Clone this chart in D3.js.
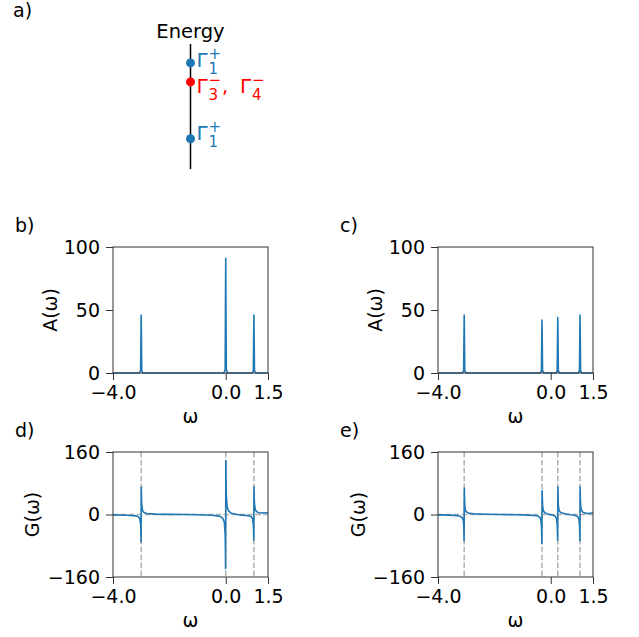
<!DOCTYPE html>
<html>
<head>
<meta charset="utf-8">
<script src="https://cdn.jsdelivr.net/npm/d3@7"></script>
<style>
body { margin: 0; background: #fff; }
text { font-family: "DejaVu Sans", sans-serif; fill: #000; }
</style>
</head>
<body>
<script>
// ticks shared by the four small panels
var omegaTicks = [-4.0, 0.0, 1.5];
var aTicks = [0, 50, 100];
var gTicks = [-160, 0, 160];

// panel a: energy levels (same units as omega) and their irreps [sub, sup]
var levelEnergy = [1, 0, -3];
var levelIrreps = [[["1", "+"]], [["3", "\u2212"], ["4", "\u2212"]], [["1", "+"]]];

// panel b: A(w), poles at -3, 0, 1
var omegaB = [-4.0, -3.06, -3.02, -3.0, -2.98, -2.94, -0.06, -0.02, 0.0, 0.02, 0.06, 0.94, 0.98, 1.0, 1.02, 1.06, 1.5];
var specB  = [0, 0, 2, 46, 2, 0, 0, 3, 91, 3, 0, 0, 2, 46, 2, 0, 0];

// panel c: A(w), four poles
var omegaC = [-4.0, -3.13, -3.09, -3.07, -3.05, -3.01, -0.37, -0.33, -0.31, -0.29, -0.25, 0.19, 0.23, 0.25, 0.27, 0.31, 0.98, 1.02, 1.04, 1.06, 1.1, 1.5];
var specC  = [0, 0, 2, 46, 2, 0, 0, 2, 42, 2, 0, 0, 2, 44, 2, 0, 0, 2, 46, 2, 0, 0];

// panel d: G(w), poles as in b
var polesD = [-3.0, 0.0, 1.0];
var omegaD = [-4.0, -3.5, -3.2, -3.1, -3.05, -3.02, -3.01, -3.005, -2.995, -2.99, -2.98, -2.95, -2.9, -2.8, -2.5, -2.0, -1.5, -1.0, -0.5, -0.3, -0.2, -0.1, -0.05, -0.02, -0.01, -0.005,
              0.005, 0.01, 0.02, 0.05, 0.1, 0.2, 0.4, 0.6, 0.8, 0.9, 0.95, 0.98, 0.99, 0.995, 1.005, 1.01, 1.02, 1.05, 1.1, 1.2, 1.5];
var gD     = [-1, -2, -3.5, -6, -11, -25, -45, -70, 70, 45, 25, 10, 5, 2.5, 1, 0.3, 0, -0.5, -2, -3.5, -5, -10, -20, -50, -95, -138,
              138, 95, 50, 20, 9, 3, 0, -1.5, -3, -5, -10, -25, -45, -66, 71, 47, 27, 12, 7, 4, 4.5];

// panel e: G(w), poles as in c
var polesE = [-3.07, -0.31, 0.25, 1.04];
var omegaE = [-4.0, -3.6, -3.3, -3.2, -3.13, -3.1, -3.09, -3.08, -3.075, -3.065, -3.06, -3.05, -3.03, -3.0, -2.9, -2.7, -2.3, -1.8, -1.2, -0.8, -0.6, -0.45, -0.38, -0.35, -0.33, -0.32, -0.315,
              -0.305, -0.3, -0.29, -0.27, -0.22, -0.1, 0.0, 0.1, 0.17, 0.21, 0.23, 0.24, 0.245, 0.255, 0.26, 0.27, 0.29, 0.35, 0.5, 0.7, 0.85, 0.95, 1.0, 1.02, 1.03, 1.035,
              1.045, 1.05, 1.06, 1.08, 1.15, 1.3, 1.5];
var gE     = [-1, -1.5, -3, -5, -9, -16, -25, -45, -67, 68, 45, 25, 12, 7, 3, 1.5, 0.5, 0, -0.5, -1.5, -2.5, -4, -8, -14, -28, -48, -74,
              61, 45, 25, 12, 5, 1, -0.5, -2, -5, -12, -25, -48, -66, 70, 48, 25, 12, 5, 2, -0.5, -2, -5, -12, -25, -45, -67,
              70, 47, 25, 12, 5, 2.5, 4];

var blue = "#1f77b4";
var fs = 19;

var svg = d3.select("body")
            .append("svg")
            .attr("width", 639)
            .attr("height", 637)

svg.append("rect").attr("width", 639).attr("height", 637).attr("fill", "#fff")

// ---- panel a ----
svg.append("text").attr("x", 13).attr("y", 17).style("font-size", fs + "px").text("a)")

var ey = d3.scaleLinear().domain([-4.6, 2.0]).range([169, 44])
var lineX = 190.5
// label baseline offset from each dot (the labels are not centred the same way)
var labelDy = [4.5, 11, 1.7]

svg.append("text").attr("x", lineX).attr("y", 38).attr("text-anchor", "middle")
   .style("font-size", "19.5px").text("Energy")

svg.append("line").attr("x1", lineX).attr("x2", lineX).attr("y1", ey(-4.6)).attr("y2", ey(2.0))
   .attr("stroke", "#000").attr("stroke-width", 1.5)

var levels = svg.selectAll("g.level")
                .data(levelEnergy)
                .enter()
                .append("g")
                .attr("class", "level")
                .attr("transform", function(d) { return "translate(" + lineX + "," + ey(d) + ")" })

levels.append("circle")
      .attr("r", 4.5)
      .attr("fill", function(d, i) { return i == 1 ? "red" : blue })

levels.each(function(d, i) {
  var g = d3.select(this)
  var col = i == 1 ? "red" : blue
  var by = labelDy[i]
  var x0 = 6
  levelIrreps[i].forEach(function(ir, j) {
    if (j > 0) {
      g.append("text").attr("x", x0 - 0.5).attr("y", by).style("fill", col)
       .style("font-size", "19px").text(",")
      x0 += 17.5
    }
    g.append("text").attr("x", x0).attr("y", by).style("fill", col)
     .style("font-size", "20px").text("\u0393")
    g.append("text").attr("x", x0 + 12).attr("y", by - 8).style("fill", col)
     .style("font-size", "15px").text(ir[1])
    g.append("text").attr("x", x0 + 12).attr("y", by + 6.8).style("fill", col)
     .style("font-size", "15px").text(ir[0])
    x0 += 26
  })
})

// ---- small panels ----
function drawPanel(box, tag, omega, vals, yTicks, ylab, ylabOff, poles) {
  var x = d3.scaleLinear().domain([-4, 1.5]).range([box.l, box.r])
  var y = d3.scaleLinear().domain([yTicks[0], yTicks[2]]).range([box.b, box.t])
  var g = svg.append("g")

  g.append("text").attr("x", box.l - 98).attr("y", box.t - 15).style("font-size", fs + "px").text(tag)

  if (poles) {
    g.selectAll("line.pole").data(poles).enter().append("line")
     .attr("x1", function(d) { return x(d) }).attr("x2", function(d) { return x(d) })
     .attr("y1", box.t).attr("y2", box.b)
     .attr("stroke", "#b0b0b0").attr("stroke-width", 1.5).attr("stroke-dasharray", "5.5,2.4")
    g.append("line").attr("x1", box.l).attr("x2", box.r).attr("y1", y(0)).attr("y2", y(0))
     .attr("stroke", "#b0b0b0").attr("stroke-width", 1.5).attr("stroke-dasharray", "5.5,2.4")
  }

  var line = d3.line()
               .x(function(d) { return x(d[0]) })
               .y(function(d) { return y(d[1]) })
  g.append("path").datum(d3.zip(omega, vals))
   .attr("d", line).attr("fill", "none").attr("stroke", blue).attr("stroke-width", 1.6)
   .attr("stroke-linejoin", "round")

  g.append("rect").attr("x", box.l).attr("y", box.t).attr("width", box.r - box.l).attr("height", box.b - box.t)
   .attr("fill", "none").attr("stroke", "#333").attr("stroke-width", 1)

  var xa = g.append("g").attr("transform", "translate(0," + box.b + ")")
            .call(d3.axisBottom(x).tickValues(omegaTicks).tickFormat(d3.format(".1f")).tickSize(7).tickPadding(5.5))
  var ya = g.append("g").attr("transform", "translate(" + box.l + ",0)")
            .call(d3.axisLeft(y).tickValues(yTicks).tickFormat(d3.format("d")).tickSize(7).tickPadding(6))
  ;[xa, ya].forEach(function(a) {
    a.select(".domain").remove()
    a.selectAll("line").attr("stroke", "#333")
    a.selectAll("text").style("font-size", fs + "px").attr("font-family", null)
  })

  g.append("text").attr("x", (box.l + box.r) / 2).attr("y", box.b + 50).attr("text-anchor", "middle")
   .style("font-size", fs + "px").text("\u03c9")
  g.append("text").attr("transform", "translate(" + (box.l - ylabOff) + "," + (box.t + box.b) / 2 + ") rotate(-90)")
   .attr("text-anchor", "middle").attr("dy", "0.35em").style("font-size", fs + "px").text(ylab)
}

drawPanel({l: 113, r: 268, t: 247, b: 373}, "b)", omegaB, specB, aTicks, "A(\u03c9)", 63)
drawPanel({l: 438, r: 593, t: 247, b: 373}, "c)", omegaC, specC, aTicks, "A(\u03c9)", 63)
drawPanel({l: 113, r: 268, t: 452, b: 577}, "d)", omegaD, gD, gTicks, "G(\u03c9)", 81, polesD)
drawPanel({l: 438, r: 593, t: 452, b: 577}, "e)", omegaE, gE, gTicks, "G(\u03c9)", 80, polesE)
</script>
</body>
</html>
